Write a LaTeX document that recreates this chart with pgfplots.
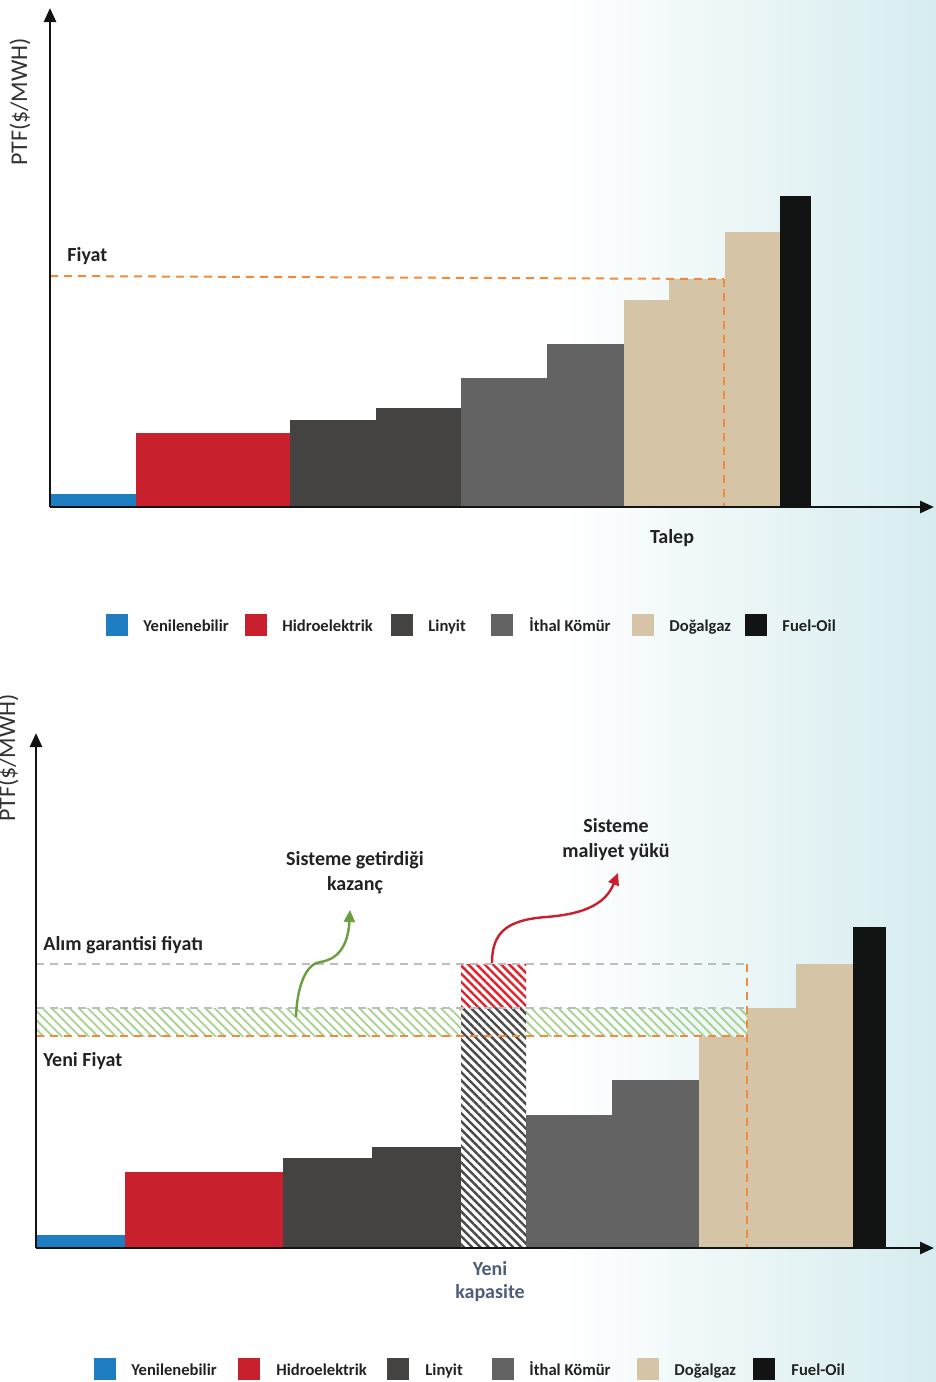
\documentclass[border=0pt]{standalone}
\usepackage{pgfplots}
\pgfplotsset{compat=1.18}
\usepackage{fontspec}
\setmainfont{Carlito}
\usetikzlibrary{arrows.meta,patterns.meta}
\definecolor{cBlue}{HTML}{1F7EC2}
\definecolor{cRed}{HTML}{C8202D}
\definecolor{cLin}{HTML}{444341}
\definecolor{cIth}{HTML}{636363}
\definecolor{cGas}{HTML}{D6C4A7}
\definecolor{cOil}{HTML}{121413}
\definecolor{cOrange}{HTML}{F08A3C}
\definecolor{cGrayD}{HTML}{BDBDBD}
\definecolor{cGreenH}{HTML}{A9D18E}
\definecolor{cGreenA}{HTML}{6A9E3F}
\definecolor{cRedH}{HTML}{E3212B}
\definecolor{cHatch}{HTML}{4A4A4A}
\definecolor{cTeal}{HTML}{D6ECEF}
\definecolor{cText}{HTML}{222222}
\definecolor{cSlate}{HTML}{4E5D7A}
\definecolor{cLab}{HTML}{333333}

\pgfplotsset{
  schem/.style={
    x=0.5pt, y=0.5pt,
    anchor=south west,
    axis lines=left,
    axis line style={line width=1.3pt, draw=cOil, -{Triangle[length=7pt,width=6pt]}},
    xtick=\empty, ytick=\empty,
    clip=false,
    axis on top=true,
  },
  odash/.style={cOrange, line width=1pt, dash pattern=on 4pt off 3pt},
  gdash/.style={cGrayD, line width=1pt, dash pattern=on 4pt off 3pt},
}

\newcommand{\lab}[1]{\fontsize{10}{12}\selectfont\bfseries #1}
\newcommand{\legf}{\fontsize{8.3}{10}\selectfont\bfseries}

\begin{document}
\begin{tikzpicture}
\useasboundingbox (0,0) rectangle (468pt,-691pt);
\shade[left color=white, right color=cTeal] (280pt,0) rectangle (468pt,-691pt);

% ---------------- top chart ----------------
\begin{axis}[schem, at={(25pt,-253.5pt)}, xmin=0, xmax=884, ymin=0, ymax=499]
\addplot[ybar interval, fill=cBlue, draw=none] coordinates {(0,13) (86,13)};
\addplot[ybar interval, fill=cRed, draw=none] coordinates {(86,74) (240,74)};
\addplot[ybar interval, fill=cLin, draw=none] coordinates {(240,87) (326,99) (411,99)};
\addplot[ybar interval, fill=cIth, draw=none] coordinates {(411,129) (497,163) (574,163)};
\addplot[ybar interval, fill=cGas, draw=none] coordinates {(574,207) (619,228) (675,275) (730,275)};
\addplot[ybar interval, fill=cOil, draw=none] coordinates {(730,311) (761,311)};
\addplot[odash] coordinates {(0,231) (674,228)};
\addplot[odash] coordinates {(674,228) (674,0)};
\end{axis}

% ---------------- bottom chart ----------------
\begin{axis}[schem, at={(18pt,-624pt)}, xmin=0, xmax=898, ymin=0, ymax=515]
\addplot[ybar interval, fill=cBlue, draw=none] coordinates {(0,13) (89,13)};
\addplot[ybar interval, fill=cRed, draw=none] coordinates {(89,76) (247,76)};
\addplot[ybar interval, fill=cLin, draw=none] coordinates {(247,90) (336,101) (425,101)};
\addplot[ybar interval, fill=cIth, draw=none] coordinates {(490,133) (576,168) (663,168)};
\addplot[ybar interval, fill=cGas, draw=none] coordinates {(663,211) (711,240) (760,284) (817,284)};
\addplot[ybar interval, fill=cOil, draw=none] coordinates {(817,321) (850,321)};
% green gain band
\addplot[draw=none, pattern={Lines[angle=-45,distance=3.2pt,line width=0.9pt]}, pattern color=cGreenH]
  coordinates {(0,212) (711,212) (711,240) (0,240) (0,212)};
% new capacity (hatched)
\addplot[ybar interval, draw=none, preaction={fill=white},
  pattern={Lines[angle=-45,distance=2.9pt,line width=1.2pt]}, pattern color=cHatch]
  coordinates {(425,241) (490,241)};
\addplot[draw=none, preaction={fill=white},
  pattern={Lines[angle=-45,distance=2.9pt,line width=1.2pt]}, pattern color=cRedH]
  coordinates {(425,241) (490,241) (490,284) (425,284) (425,241)};
% price lines
\addplot[gdash] coordinates {(0,284) (711,284)};
\addplot[gdash] coordinates {(0,240) (711,240)};
\addplot[odash] coordinates {(0,212) (711,212)};
\addplot[odash] coordinates {(711,284) (711,0)};
% arrows
\draw[cGreenA, line width=1.2pt, -{Triangle[length=6pt,width=5.5pt]}]
  (axis cs:260,231) .. controls (axis cs:261,262) and (axis cs:270,284) .. (axis cs:284,286)
  .. controls (axis cs:300,288) and (axis cs:312,300) .. (axis cs:314,338);
\draw[cRed, line width=1.2pt, -{Triangle[length=6pt,width=5.5pt]}]
  (axis cs:456,285) .. controls (axis cs:456,315) and (axis cs:470,328) .. (axis cs:510,331)
  .. controls (axis cs:550,334) and (axis cs:570,345) .. (axis cs:582,375);
\end{axis}

\begin{scope}[x=0.5pt,y=-0.5pt, every node/.style={inner sep=0pt, text=cText}]
% top texts
\node[rotate=90, text=cLab, font=\fontsize{12}{14}\selectfont] at (20,102) {PTF(\$/MWH)};
\node[anchor=base west] at (67,261) {\lab{Fiyat}};
\node[anchor=base] at (672,543) {\lab{Talep}};
% top legend
\fill[cBlue] (106,614) rectangle (128,636);
\node[anchor=base west] at (143,631) {\legf Yenilenebilir};
\fill[cRed] (245,614) rectangle (267,636);
\node[anchor=base west] at (282,631) {\legf Hidroelektrik};
\fill[cLin] (391,614) rectangle (413,636);
\node[anchor=base west] at (428,631) {\legf Linyit};
\fill[cIth] (491,614) rectangle (513,636);
\node[anchor=base west] at (529,631) {\legf İthal Kömür};
\fill[cGas] (632,614) rectangle (654,636);
\node[anchor=base west] at (669,631) {\legf Doğalgaz};
\fill[cOil] (745,614) rectangle (767,636);
\node[anchor=base west] at (782,631) {\legf Fuel-Oil};

% bottom texts
\node[rotate=90, text=cLab, font=\fontsize{12}{14}\selectfont] at (8,758) {PTF(\$/MWH)};
\node[anchor=base west] at (43,950) {\lab{Alım garantisi fiyatı}};
\node[anchor=base west] at (43,1066) {\lab{Yeni Fiyat}};
\node[anchor=base] at (355,865) {\lab{Sisteme getirdiği}};
\node[anchor=base] at (355,890) {\lab{kazanç}};
\node[anchor=base] at (616,832) {\lab{Sisteme}};
\node[anchor=base] at (616,857) {\lab{maliyet yükü}};
\node[anchor=base, text=cSlate] at (490,1275) {\lab{Yeni}};
\node[anchor=base, text=cSlate] at (490,1298) {\lab{kapasite}};
% bottom legend
\fill[cBlue] (94,1358) rectangle (116,1380);
\node[anchor=base west] at (131,1375) {\legf Yenilenebilir};
\fill[cRed] (238,1358) rectangle (260,1380);
\node[anchor=base west] at (276,1375) {\legf Hidroelektrik};
\fill[cLin] (387,1358) rectangle (409,1380);
\node[anchor=base west] at (425,1375) {\legf Linyit};
\fill[cIth] (492,1358) rectangle (514,1380);
\node[anchor=base west] at (529,1375) {\legf İthal Kömür};
\fill[cGas] (637,1358) rectangle (659,1380);
\node[anchor=base west] at (674,1375) {\legf Doğalgaz};
\fill[cOil] (753,1358) rectangle (775,1380);
\node[anchor=base west] at (791,1375) {\legf Fuel-Oil};
\end{scope}
\end{tikzpicture}
\end{document}
